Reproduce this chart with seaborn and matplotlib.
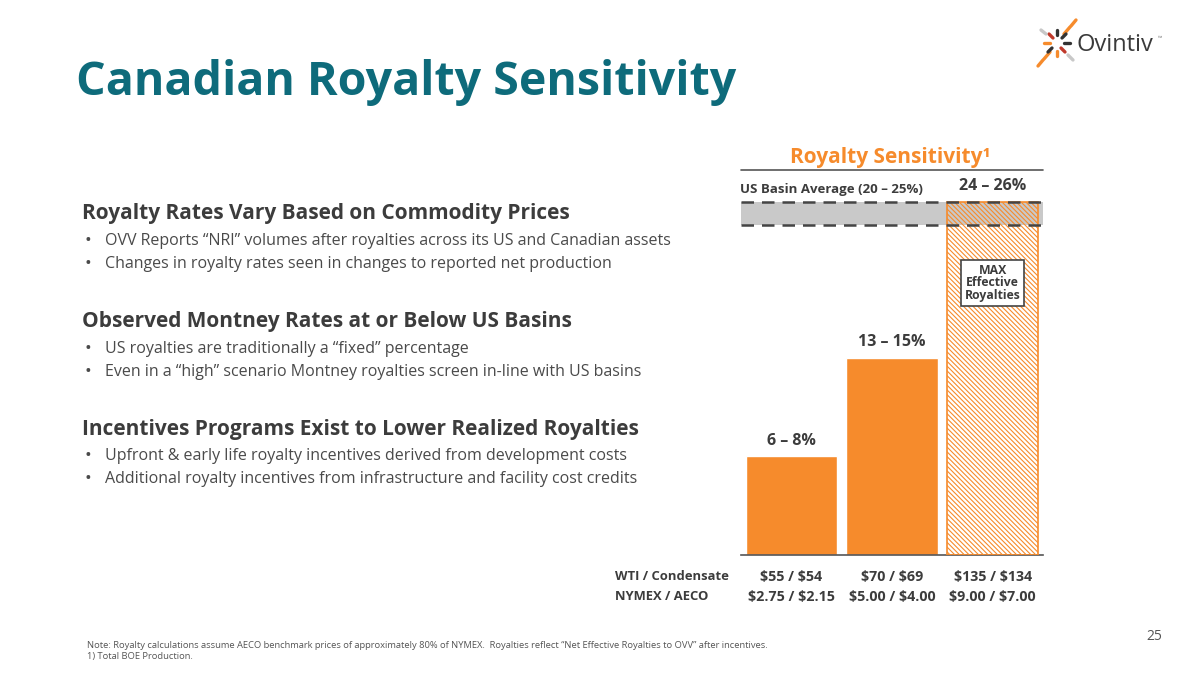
import matplotlib
matplotlib.use("Agg")
import matplotlib.pyplot as plt
from matplotlib.lines import Line2D
import seaborn as sns

# ---------------- data ----------------
price_labels = ["$55 / $54\n$2.75 / $2.15",
                "$70 / $69\n$5.00 / $4.00",
                "$135 / $134\n$9.00 / $7.00"]
royalty_mid = [7.0, 14.0, 25.0]
royalty_range_labels = ["6 – 8%", "13 – 15%", "24 – 26%"]
us_band = [23.4, 25.0]          # drawn band of the US basin average
us_band_label = "US Basin Average (20 – 25%)"
row_labels = ["WTI / Condensate", "NYMEX / AECO"]

title = "Canadian Royalty Sensitivity"
chart_title = "Royalty Sensitivity¹"
sections = [
    ("Royalty Rates Vary Based on Commodity Prices",
     ["OVV Reports “NRI” volumes after royalties across its US and Canadian assets",
      "Changes in royalty rates seen in changes to reported net production"]),
    ("Observed Montney Rates at or Below US Basins",
     ["US royalties are traditionally a “fixed” percentage",
      "Even in a “high” scenario Montney royalties screen in-line with US basins"]),
    ("Incentives Programs Exist to Lower Realized Royalties",
     ["Upfront & early life royalty incentives derived from development costs",
      "Additional royalty incentives from infrastructure and facility cost credits"]),
]
note_lines = ["Note: Royalty calculations assume AECO benchmark prices of approximately 80% of NYMEX.  "
              "Royalties reflect “Net Effective Royalties to OVV” after incentives.",
              "1) Total BOE Production."]
page_no = "25"

# ---------------- style ----------------
sns.set_theme(style="white")
FONT = ["Open Sans", "DejaVu Sans"]
plt.rcParams["font.family"] = FONT
plt.rcParams["hatch.linewidth"] = 0.8
plt.rcParams["text.parse_math"] = False

ORANGE = "#f68b2c"
TEAL = "#0e6b7b"
DARK = "#3c3c3c"
TEXT = "#4a4a4a"
GREY = "#c4c4c4"

W, H = 1200, 675
fig = plt.figure(figsize=(12, 6.75), dpi=100)
fig.patch.set_facecolor("white")

def P(x, y):
    return (x / W, 1 - y / H)

# ---------------- chart ----------------
ax_left, ax_right, ax_bottom = 741, 1043, 555
ymax = 26.0
px_per_unit = 14.1
ax_top = ax_bottom - ymax * px_per_unit
ax = fig.add_axes([ax_left / W, 1 - ax_bottom / H, (ax_right - ax_left) / W,
                   (ax_bottom - ax_top) / H])
ax.patch.set_alpha(0)

sns.barplot(x=price_labels, y=royalty_mid, color=ORANGE, width=0.91,
            saturation=1, ax=ax, zorder=2)
ax.set_xlim(-0.5, 2.5)
ax.set_ylim(0, ymax)
for s in ["top", "right", "left"]:
    ax.spines[s].set_visible(False)
ax.spines["bottom"].set_color("#555555")
ax.spines["bottom"].set_linewidth(1.2)
ax.set_yticks([])
ax.set_ylabel("")
ax.tick_params(axis="x", length=0, pad=11)
for t in ax.get_xticklabels():
    t.set_fontweight("bold")
    t.set_color(DARK)
    t.set_fontsize(10.3)
    t.set_linespacing(1.5)

# max bar: hatched, transparent face so the band shows through
bar3 = ax.patches[2]
bar3.set_facecolor("none")
bar3.set_edgecolor(ORANGE)
bar3.set_hatch("\\" * 7)
bar3.set_linewidth(1.2)
bar3.set_zorder(3)

# US basin band
ax.axhspan(us_band[0], us_band[1], color=GREY, alpha=0.9, zorder=1, lw=0)
for yv in us_band:
    ax.axhline(yv, color="#444444", lw=1.8, ls=(0, (5, 3.2)), zorder=4)

# value labels
for i, (v, lab) in enumerate(zip(royalty_mid, royalty_range_labels)):
    yy = v + 0.55 if i < 2 else us_band[1] + 0.6
    ax.text(i, yy, lab, ha="center", va="bottom", fontsize=11.5,
            fontweight="bold", color=DARK, zorder=5)
ax.text(-0.51, us_band[1] + 0.45, us_band_label, ha="left", va="bottom",
        fontsize=9.5, fontweight="bold", color=DARK, zorder=5)

# MAX effective royalties box
ax.text(2, 19.3, "MAX\nEffective\nRoyalties", ha="center", va="center",
        fontsize=8.8, fontweight="bold", color=DARK, linespacing=0.95, zorder=6,
        bbox=dict(boxstyle="square,pad=0.3", fc="white", ec="#444444", lw=1.2))

# chart heading + rule
fig.text(*P(890, 157), chart_title, ha="center", va="center", fontsize=15,
         fontweight="bold", color=ORANGE)
fig.add_artist(Line2D([ax_left / W, ax_right / W], [1 - 170 / H] * 2,
                      color="#555555", lw=1.2))

# row labels under chart
for lab, yy in zip(row_labels, [577, 596]):
    fig.text(*P(615, yy), lab, ha="left", va="center", fontsize=9.4,
             fontweight="bold", color=DARK)

# ---------------- title & text ----------------
fig.text(*P(76, 82), title, ha="left", va="center", fontsize=33.5,
         fontweight="bold", color=TEAL)

y_heads = [214, 322, 429]
for (head, bullets), yh in zip(sections, y_heads):
    fig.text(*P(82, yh), head, ha="left", va="center", fontsize=15,
             fontweight="bold", color=DARK)
    for k, b in enumerate(bullets):
        yb = yh + 27 + 23 * k
        fig.text(*P(84, yb), "•", ha="left", va="center", fontsize=13, color=TEXT)
        fig.text(*P(105, yb), b, ha="left", va="center", fontsize=11.5, color=TEXT)

# note & page number
for k, ln in enumerate(note_lines):
    fig.text(*P(87, 646 + 11 * k), ln, ha="left", va="center", fontsize=6.75,
             color="#555555")
fig.text(*P(1162, 637), page_no, ha="right", va="center", fontsize=10,
         color="#555555")

# ---------------- logo ----------------
fig.text(*P(1077, 45), "Ovintiv", ha="left", va="center", fontsize=17,
         color="#3a3a3a")
fig.text(*P(1158, 38), "™", ha="left", va="center", fontsize=4, color="#777777")
segs = [
    ((1064, 34), (1070, 27), ORANGE), ((1071, 26), (1076, 20), ORANGE),
    ((1050, 52), (1044, 59), ORANGE), ((1043, 60), (1038, 66), ORANGE),
    ((1049, 34), (1053, 38), "#c0392b"), ((1061, 48), (1065, 52), "#c0392b"),
    ((1041, 30), (1046, 34), "#c8c8c8"), ((1068, 55), (1073, 60), "#c8c8c8"),
    ((1052, 48), (1048, 52), "#333333"), ((1062, 38), (1066, 34), "#333333"),
    ((1044, 43), (1050, 43), ORANGE), ((1064, 43), (1070, 43), "#333333"),
    ((1057, 30), (1057, 35), "#333333"), ((1057, 51), (1057, 56), ORANGE),
]
for (x0, y0), (x1, y1), c in segs:
    fig.add_artist(Line2D([x0 / W, x1 / W], [1 - y0 / H, 1 - y1 / H], color=c,
                          lw=2.4, solid_capstyle="round"))

fig.savefig("out.png", dpi=100, facecolor="white")
